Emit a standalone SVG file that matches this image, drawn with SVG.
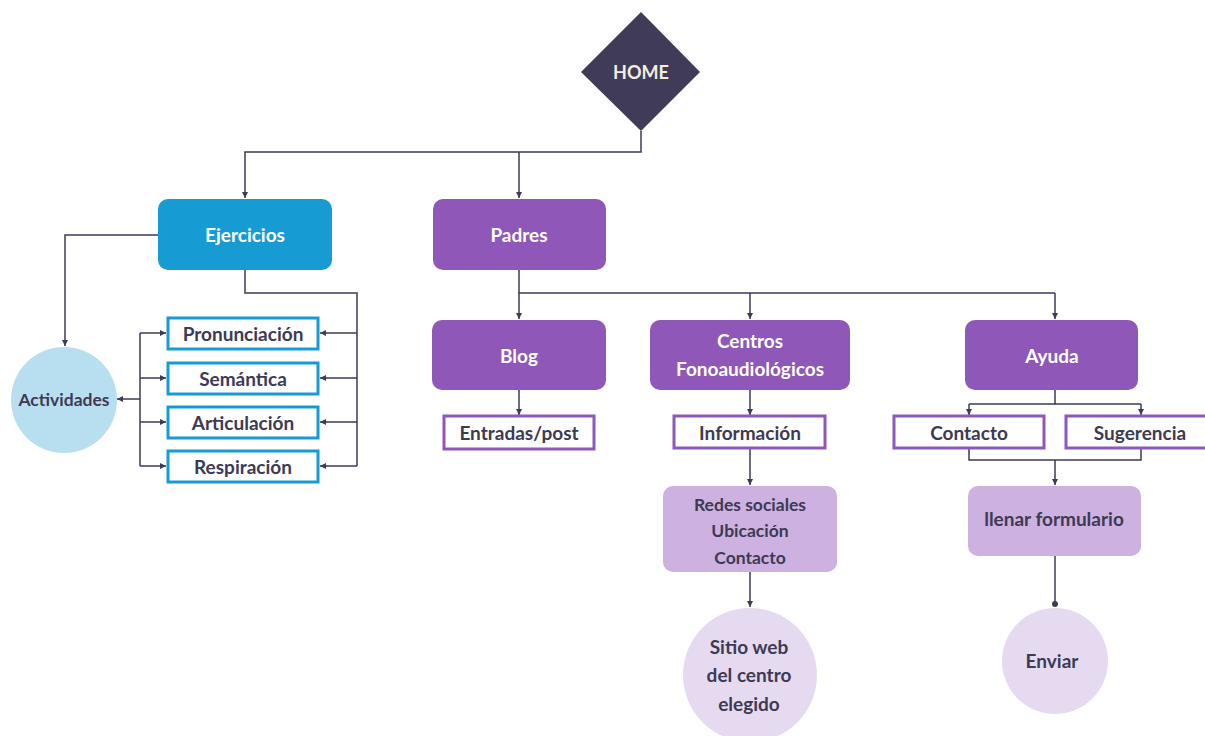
<svg xmlns="http://www.w3.org/2000/svg" width="1205" height="736" viewBox="0 0 1205 736">
<defs>
<marker id="arr" viewBox="0 0 10 10" refX="10" refY="5" markerWidth="6" markerHeight="6" orient="auto" markerUnits="userSpaceOnUse">
<path d="M0,0 L10,5 L0,10 z" fill="#3d3a55"/>
</marker>
<marker id="dot" viewBox="0 0 10 10" refX="5" refY="5" markerWidth="6" markerHeight="6" markerUnits="userSpaceOnUse">
<circle cx="5" cy="5" r="5" fill="#3d3a55"/>
</marker>
<style>
.t{font-family:Lato,"Open Sans","Liberation Sans",sans-serif;font-weight:bold;font-size:19px;text-anchor:middle;dominant-baseline:central;fill:#3c3a54}
.s{font-size:17.5px}
.w{fill:#ffffff}
.c{fill:none;stroke:#3d3a55;stroke-width:1.5}
.a{marker-end:url(#arr)}
.blue{fill:#169bd3}
.purple{fill:#8e57b8}
.lp{fill:#cdb1e0}
.vlp{fill:#e6daf0}
.ob{fill:#ffffff;stroke:#169bd3;stroke-width:3}
.op{fill:#ffffff;stroke:#8e57b8;stroke-width:3}
</style>
</defs>
<rect width="1205" height="736" fill="#ffffff"/>

<g id="connectors">
<path class="c a" d="M641,131 V152 H245 V198"/>
<path class="c a" d="M519,152 V198"/>
<path class="c a" d="M158,235 H65 V346"/>
<path class="c" d="M245,270 V293 H357 V466"/>
<path class="c a" d="M357,333 H320"/>
<path class="c a" d="M357,378 H320"/>
<path class="c a" d="M357,422 H320"/>
<path class="c a" d="M357,466 H320"/>
<path class="c" d="M140,333 V466"/>
<path class="c a" d="M140,333 H166"/>
<path class="c a" d="M140,378 H166"/>
<path class="c a" d="M140,422 H166"/>
<path class="c a" d="M140,466 H166"/>
<path class="c a" d="M140,399 H117"/>
<path class="c" d="M519,270 V293 H1055"/>
<path class="c a" d="M519,293 V319"/>
<path class="c a" d="M750,293 V319"/>
<path class="c a" d="M1055,293 V319"/>
<path class="c a" d="M519,390 V415"/>
<path class="c a" d="M750,390 V415"/>
<path class="c a" d="M750,449 V485"/>
<path class="c a" d="M750,572 V607"/>
<path class="c" d="M1055,390 V404 H969"/>
<path class="c" d="M1055,404 H1141"/>
<path class="c a" d="M969,404 V415"/>
<path class="c a" d="M1141,404 V415"/>
<path class="c" d="M969,449 V460 H1141 V449"/>
<path class="c a" d="M1055,460 V485"/>
<path class="c" d="M1055,556 V604" marker-end="url(#dot)"/>
</g>

<g id="home">
<polygon points="641,12 700,72 641,131 581,72" fill="#403b56"/>
<text class="t" x="641" y="72" style="fill:#f3efe4;font-size:18px">HOME</text>
</g>

<g id="ejercicios">
<rect class="blue" x="158" y="199" width="174" height="71" rx="10"/>
<text class="t w" x="245" y="234">Ejercicios</text>
</g>

<g id="padres">
<rect class="purple" x="433" y="199" width="173" height="71" rx="10"/>
<text class="t w" x="519" y="234">Padres</text>
</g>

<g id="actividades">
<circle cx="64" cy="400" r="53" fill="#b8dff0"/>
<text class="t s" x="64" y="399">Actividades</text>
</g>

<g id="pronunciacion">
<rect class="ob" x="168" y="318" width="150" height="31"/>
<text class="t" x="243" y="333">Pronunciación</text>
</g>
<g id="semantica">
<rect class="ob" x="168" y="363" width="150" height="31"/>
<text class="t" x="243" y="378">Semántica</text>
</g>
<g id="articulacion">
<rect class="ob" x="168" y="407" width="150" height="31"/>
<text class="t" x="243" y="422">Articulación</text>
</g>
<g id="respiracion">
<rect class="ob" x="168" y="451" width="150" height="31"/>
<text class="t" x="243" y="466">Respiración</text>
</g>

<g id="blog">
<rect class="purple" x="432" y="320" width="174" height="70" rx="10"/>
<text class="t w" x="519" y="355">Blog</text>
</g>

<g id="centros">
<rect class="purple" x="650" y="320" width="200" height="70" rx="10"/>
<text class="t w" x="750" y="340">Centros</text>
<text class="t w" x="750" y="368">Fonoaudiológicos</text>
</g>

<g id="ayuda">
<rect class="purple" x="965" y="320" width="173" height="70" rx="10"/>
<text class="t w" x="1052" y="355">Ayuda</text>
</g>

<g id="entradas">
<rect class="op" x="444" y="416" width="150" height="33"/>
<text class="t" x="519" y="432">Entradas/post</text>
</g>

<g id="informacion">
<rect class="op" x="674" y="416" width="151" height="32"/>
<text class="t" x="750" y="432">Información</text>
</g>

<g id="contacto">
<rect class="op" x="894" y="416" width="150" height="32"/>
<text class="t" x="969" y="432">Contacto</text>
</g>

<g id="sugerencia">
<rect class="op" x="1066" y="416" width="150" height="32"/>
<text class="t" x="1140" y="432">Sugerencia</text>
</g>

<g id="redes">
<rect class="lp" x="663" y="486" width="174" height="86" rx="10"/>
<text class="t s" x="750" y="504">Redes sociales</text>
<text class="t s" x="750" y="530">Ubicación</text>
<text class="t s" x="750" y="557">Contacto</text>
</g>

<g id="llenar">
<rect class="lp" x="968" y="486" width="173" height="70" rx="10"/>
<text class="t" x="1054" y="518">llenar formulario</text>
</g>

<g id="sitio">
<circle class="vlp" cx="750" cy="675" r="67"/>
<text class="t" x="749" y="646">Sitio web</text>
<text class="t" x="749" y="674">del centro</text>
<text class="t" x="749" y="703">elegido</text>
</g>

<g id="enviar">
<circle class="vlp" cx="1055" cy="661" r="53"/>
<text class="t" x="1052" y="660">Enviar</text>
</g>
</svg>
